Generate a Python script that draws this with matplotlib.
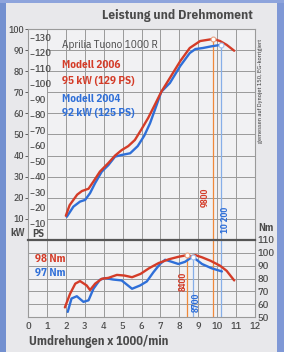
import matplotlib
matplotlib.use("Agg")
import matplotlib.pyplot as plt
from matplotlib.patches import Rectangle

plt.rcParams['font.family'] = ['IBM Plex Sans Condensed', 'DejaVu Sans']

# power (kW) over rpm x 1000
rpm_p06 = [2.0, 2.2, 2.6, 2.85, 3.2, 3.45, 3.8, 4.25, 4.6, 4.95, 5.3, 5.65,
           6.0, 6.35, 6.7, 7.05, 7.5, 8.05, 8.55, 9.1, 9.8, 10.15, 10.5, 10.9]
kw_06 = [11.5, 16.5, 21.5, 23.2, 24.3, 27.6, 32.4, 36.5, 40.0, 42.6, 44.5, 47.4,
         52.5, 57.8, 64.0, 70.3, 76.8, 84.8, 91.0, 94.3, 95.3, 94.3, 92.5, 89.7]
rpm_p04 = [2.05, 2.4, 2.75, 3.02, 3.28, 3.55, 3.9, 4.25, 4.6, 4.95, 5.4, 5.8,
           6.15, 6.45, 6.8, 7.05, 7.5, 8.05, 8.55, 8.85, 9.25, 9.7, 10.2]
kw_04 = [11.0, 15.8, 18.2, 19.0, 22.2, 27.0, 32.4, 35.5, 39.5, 40.3, 41.1, 44.5,
         49.5, 55.3, 64.0, 70.3, 74.4, 82.5, 88.6, 90.5, 91.0, 91.8, 92.5]

# torque (Nm)
rpm_t06 = [1.95, 2.22, 2.5, 2.75, 3.1, 3.28, 3.55, 3.9, 4.25, 4.7, 5.1, 5.5, 5.95,
           6.4, 6.9, 7.45, 7.95, 8.4, 8.6, 8.85, 9.2, 9.65, 10.15, 10.5, 10.9]
nm_06 = [57.5, 68, 76, 78, 74.6, 71, 76, 79.8, 80.5, 82.8, 82.3, 81, 83.6,
         88, 92, 95, 96.9, 98.2, 97.2, 98.2, 96.5, 93.8, 90, 86, 78.5]
rpm_t04 = [2.1, 2.3, 2.58, 2.93, 3.2, 3.46, 3.8, 4.07, 4.5, 4.95, 5.5, 5.93,
           6.28, 6.63, 6.98, 7.25, 7.6, 7.95, 8.3, 8.7, 9.2, 9.7, 10.25]
nm_04 = [54, 64.4, 66.2, 61.8, 63, 72, 79, 80.3, 79.2, 78.5, 72, 74.6,
         77.7, 84.9, 91.3, 94.6, 93, 91.3, 93, 97, 91.3, 88, 85.5]

# peaks
p06_rpm, p06_kw = 9.8, 95.3
p04_rpm, p04_kw = 10.2, 92.5
t06_rpm, t06_nm = 8.4, 98.2
t04_rpm, t04_nm = 8.7, 97

kw_ticks = list(range(10, 101, 10))
ps_ticks = list(range(10, 131, 10))
nm_ticks = list(range(50, 111, 10))
x_ticks = list(range(0, 13))

RED = '#d43c28'
BLUE = '#2f6fd8'
ORANGE = '#f0893a'
LBLUE = '#86aee8'
GRID = '#9a9a9a'
TXT = '#4a4a4a'

fig = plt.figure(figsize=(2.84, 3.52), dpi=100)
fig.patch.set_facecolor('#e8e8eb')
# blue edges of the scan
fig.add_artist(Rectangle((0, 0), 0.02, 1, transform=fig.transFigure, color='#7390d0', lw=0))
fig.add_artist(Rectangle((0.975, 0), 0.025, 1, transform=fig.transFigure, color='#7f98d6', lw=0))
fig.add_artist(Rectangle((0, 0.992), 1, 0.008, transform=fig.transFigure, color='#8ea4dc', lw=0))

ax1 = fig.add_axes([0.0986, 0.3182, 0.7993, 0.5994])
ax2 = fig.add_axes([0.0986, 0.0994, 0.7993, 0.2188])

for ax in (ax1, ax2):
    ax.set_facecolor('#f1f1f3')
    ax.set_xlim(0, 12)
    for s in ax.spines.values():
        s.set_color(GRID)
        s.set_linewidth(0.8)
    for x in x_ticks[1:-1]:
        ax.axvline(x, color=GRID, lw=0.7, zorder=1)

# --- power
ax1.set_ylim(0, 100)
ax1.hlines(kw_ticks, 1, 12, color=GRID, lw=0.7, zorder=1)
ax1.set_xticks([])
ax1.set_yticks(kw_ticks)
ax1.tick_params(axis='y', length=2, width=0.6, color=TXT, pad=1, labelsize=7, labelcolor=TXT)
for lb in ax1.get_yticklabels():
    lb.set_fontweight('medium')
ax1.spines['bottom'].set_visible(False)
ps_kw = [p / 1.36 for p in ps_ticks]
ax1.hlines(ps_kw, 0.08, 0.3, color=TXT, lw=0.6)
for p, k in zip(ps_ticks, ps_kw):
    ax1.text(0.36, k, str(p), ha='left', va='center', fontsize=7.5,
             fontweight='medium', color=TXT)

ax1.axvline(p06_rpm, ymax=p06_kw / 100, color=ORANGE, lw=0.9, zorder=2)
ax1.axvline(p04_rpm, ymax=p04_kw / 100, color=LBLUE, lw=0.9, zorder=2)
ax1.plot(rpm_p04, kw_04, color=BLUE, lw=1.7, zorder=3, solid_capstyle='round')
ax1.plot(rpm_p06, kw_06, color=RED, lw=1.7, zorder=4, solid_capstyle='round')
ax1.plot([p06_rpm], [p06_kw], 'o', ms=3.5, mfc='white', mec='#e8a080', mew=0.8, zorder=5)
ax1.plot([p04_rpm], [p04_kw], 'o', ms=3.5, mfc='white', mec='#a0c0f0', mew=0.8, zorder=5)
ax1.text(9.37, 20.4, '9800', rotation=90, ha='center', va='center', fontsize=6.5,
         fontweight='bold', color=RED)
ax1.text(10.42, 9.5, '10 200', rotation=90, ha='center', va='center', fontsize=6.5,
         fontweight='bold', color=BLUE)

# --- torque
ax2.set_ylim(50, 110)
ax2.hlines(nm_ticks[1:-1], 0, 12, color=GRID, lw=0.7, zorder=1)
ax2.spines['top'].set_color('#555555')
ax2.spines['top'].set_linewidth(1.6)
ax2.set_xticks(x_ticks)
ax2.set_yticks(nm_ticks)
ax2.yaxis.tick_right()
ax2.tick_params(axis='both', length=0, pad=2, labelsize=7.5, labelcolor=TXT)
ax2.tick_params(axis='x', pad=3.5)
for lb in ax2.get_xticklabels() + ax2.get_yticklabels():
    lb.set_fontweight('medium')

ax2.axvline(p06_rpm, color=ORANGE, lw=0.9, zorder=2)
ax2.axvline(p04_rpm, color=LBLUE, lw=0.9, zorder=2)
ax2.axvline(t06_rpm, ymax=(t06_nm - 50) / 60, color=ORANGE, lw=0.9, zorder=2)
ax2.axvline(t04_rpm, ymax=(t04_nm - 50) / 60, color=LBLUE, lw=0.9, zorder=2)
ax2.plot(rpm_t04, nm_04, color=BLUE, lw=1.7, zorder=3, solid_capstyle='round')
ax2.plot(rpm_t06, nm_06, color=RED, lw=1.7, zorder=4, solid_capstyle='round')
ax2.plot([t06_rpm], [t06_nm], 'o', ms=3.5, mfc='white', mec='#e8a080', mew=0.8, zorder=5)
ax2.plot([t04_rpm], [t04_nm], 'o', ms=3.5, mfc='white', mec='#a0c0f0', mew=0.8, zorder=5)
ax2.text(8.2, 77.7, '8400', rotation=90, ha='center', va='center', fontsize=6.5,
         fontweight='bold', color=RED)
ax2.text(8.9, 61.5, '8700', rotation=90, ha='center', va='center', fontsize=6.5,
         fontweight='bold', color=BLUE)

# --- texts
fig.text(0.891, 0.957, 'Leistung und Drehmoment', ha='right', va='center',
         fontsize=9.6, fontweight='bold', color=TXT)
fig.text(0.218, 0.872, 'Aprilia Tuono 1000 R', ha='left', va='center', fontsize=8, color=TXT)
fig.text(0.218, 0.815, 'Modell 2006', ha='left', va='center', fontsize=8, fontweight='bold', color=RED)
fig.text(0.218, 0.770, '95 kW (129 PS)', ha='left', va='center', fontsize=8, fontweight='bold', color=RED)
fig.text(0.218, 0.719, 'Modell 2004', ha='left', va='center', fontsize=8, fontweight='bold', color=BLUE)
fig.text(0.218, 0.679, '92 kW (125 PS)', ha='left', va='center', fontsize=8, fontweight='bold', color=BLUE)
fig.text(0.123, 0.264, '98 Nm', ha='left', va='center', fontsize=8, fontweight='bold', color=RED)
fig.text(0.123, 0.224, '97 Nm', ha='left', va='center', fontsize=8, fontweight='bold', color=BLUE)
fig.text(0.035, 0.338, 'kW', ha='left', va='center', fontsize=7.5, fontweight='bold', color=TXT)
fig.text(0.113, 0.336, 'PS', ha='left', va='center', fontsize=7.5, fontweight='bold', color=TXT)
fig.text(0.908, 0.352, 'Nm', ha='left', va='center', fontsize=7.5, fontweight='bold', color=TXT)
fig.text(0.102, 0.031, 'Umdrehungen x 1000/min', ha='left', va='center',
         fontsize=9, fontweight='bold', color=TXT)
fig.text(0.919, 0.741, 'gemessen auf Dynojet 150, EG-korrigiert', rotation=90,
         ha='center', va='center', fontsize=4.5, color='#333333')

fig.savefig('out.png', dpi=100, facecolor=fig.get_facecolor())
